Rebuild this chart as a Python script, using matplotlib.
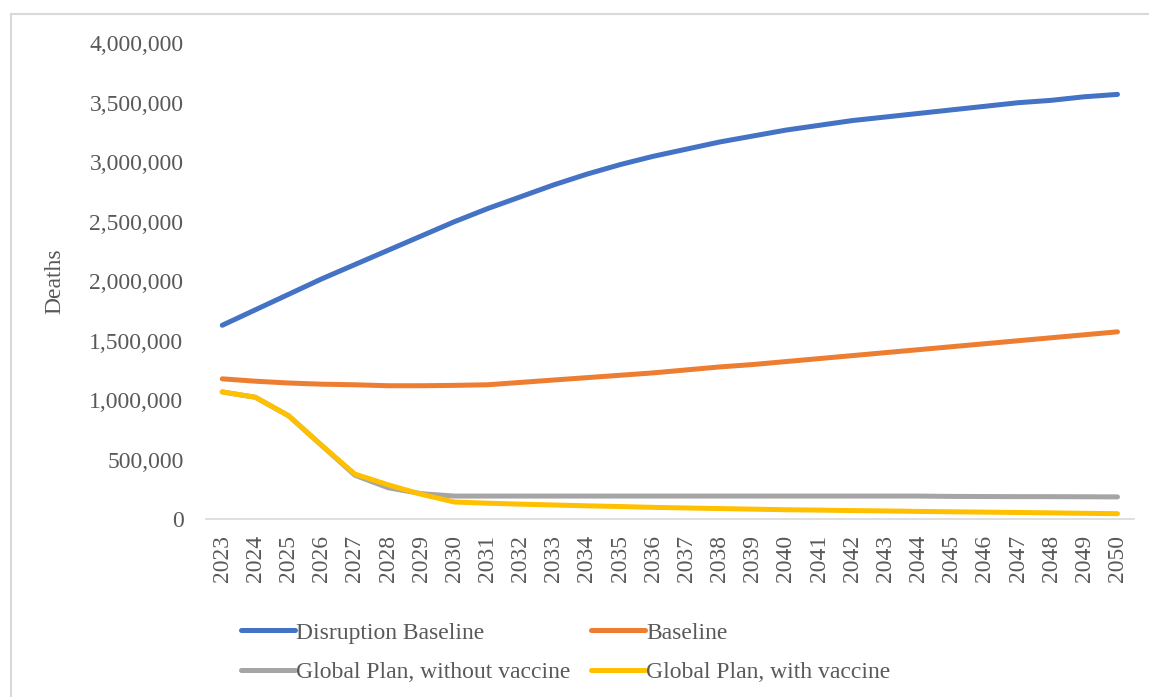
import numpy as np
import matplotlib.pyplot as plt
import matplotlib as mpl
from matplotlib.lines import Line2D
from matplotlib.ticker import FuncFormatter

mpl.rcParams['font.family'] = ['Liberation Serif', 'DejaVu Serif']
mpl.rcParams['font.size'] = 17

years = [str(y) for y in range(2023, 2051)]

disruption_baseline = [1630000, 1760000, 1890000, 2020000, 2140000, 2260000, 2380000,
                       2500000, 2610000, 2710000, 2810000, 2900000, 2980000, 3050000,
                       3110000, 3170000, 3220000, 3270000, 3310000, 3350000, 3380000,
                       3410000, 3440000, 3470000, 3500000, 3520000, 3550000, 3570000]
baseline = [1180000, 1160000, 1145000, 1135000, 1130000, 1122000, 1122000,
            1125000, 1130000, 1150000, 1170000, 1190000, 1210000, 1230000,
            1255000, 1280000, 1300000, 1325000, 1350000, 1375000, 1400000,
            1425000, 1450000, 1475000, 1500000, 1525000, 1550000, 1575000]
plan_no_vaccine = [1070000, 1025000, 870000, 620000, 370000, 265000, 215000,
                   195000, 195000, 195000, 195000, 195000, 195000, 195000,
                   195000, 195000, 195000, 195000, 195000, 195000, 195000,
                   195000, 192000, 191000, 190000, 190000, 189000, 188000]
plan_vaccine = [1070000, 1025000, 870000, 620000, 380000, 290000, 210000,
                145000, 135000, 127000, 120000, 113000, 107000, 100000,
                95000, 90000, 85000, 80000, 77000, 73000, 70000,
                66000, 63000, 60000, 57000, 54000, 50000, 47000]

series = [
    ('Disruption Baseline', disruption_baseline, '#4472C4'),
    ('Baseline', baseline, '#ED7D31'),
    ('Global Plan, without vaccine', plan_no_vaccine, '#A5A5A5'),
    ('Global Plan, with vaccine', plan_vaccine, '#FFC000'),
]

fig = plt.figure(figsize=(11.49, 6.97), dpi=100)
ax = fig.add_axes([0.179, 0.255, 0.808, 0.683])

x = np.arange(len(years))
lines = []
for name, vals, col in series:
    ln, = ax.plot(x, vals, color=col, lw=3.6, label=name, solid_capstyle='round',
                  solid_joinstyle='round')
    lines.append(ln)

ax.set_xlim(-0.5, len(years) - 0.5)
ax.set_ylim(0, 4000000)
ax.set_yticks(np.arange(0, 4000001, 500000))
ax.yaxis.set_major_formatter(FuncFormatter(lambda v, p: f'{int(v):,}'))
ax.set_xticks(x)
ax.set_xticklabels(years, rotation=90)
ax.tick_params(axis='both', length=0, colors='#595959')
ax.tick_params(axis='y', pad=16)
ax.tick_params(axis='x', pad=11)
for s in ['top', 'right', 'left']:
    ax.spines[s].set_visible(False)
ax.spines['bottom'].set_color('#d9d9d9')
ax.spines['bottom'].set_linewidth(1.2)

ax.set_ylabel('Deaths', color='#595959', labelpad=17)

# legend fills row by row like Excel
order = [0, 2, 1, 3]
leg = fig.legend([lines[i] for i in order], [series[i][0] for i in order],
                 loc='upper left', bbox_to_anchor=(0.191, 0.138), ncol=2,
                 frameon=False, handlelength=2.3, handletextpad=0.05,
                 columnspacing=0.85, labelspacing=0.75, fontsize=17)
for t in leg.get_texts():
    t.set_color('#595959')

# chart area border: only top and left edges visible
x0, y1 = 10.5 / 1149, 1 - 14 / 697
fig.add_artist(Line2D([x0, 1], [y1, y1], transform=fig.transFigure,
                      color='#d9d9d9', lw=1.5))
fig.add_artist(Line2D([x0, x0], [0, y1], transform=fig.transFigure,
                      color='#d9d9d9', lw=1.5))

plt.savefig('out.png', dpi=100)
